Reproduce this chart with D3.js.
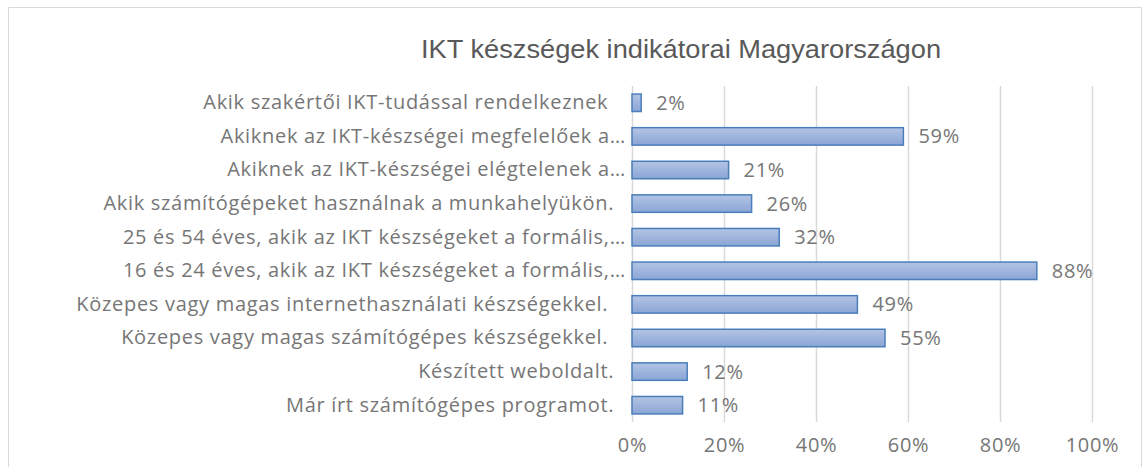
<!DOCTYPE html>
<html>
<head>
<meta charset="utf-8">
<script src="https://cdn.jsdelivr.net/npm/d3@7"></script>
<style>
  body { margin: 0; background: #fff; }
  text { white-space: pre; }
</style>
</head>
<body>
<div id="chart"></div>
<script>
var width = 1142;
var height = 467;

var title = "IKT készségek indikátorai Magyarországon";

var categories = [
  "Akik szakértői IKT-tudással rendelkeznek   ",
  "Akiknek az IKT-készségei megfelelőek a…",
  "Akiknek az IKT-készségei elégtelenek a…",
  "Akik számítógépeket használnak a munkahelyükön.  ",
  "25 és 54 éves, akik az IKT készségeket a formális,…",
  "16 és 24 éves, akik az IKT készségeket a formális,…",
  "Közepes vagy magas internethasználati készségekkel.   ",
  "Közepes vagy magas számítógépes készségekkel.   ",
  "Készített weboldalt.  ",
  "Már írt számítógépes programot.  "
];
var values = [0.02, 0.59, 0.21, 0.26, 0.32, 0.88, 0.49, 0.55, 0.12, 0.11];
var ticks = [0, 0.2, 0.4, 0.6, 0.8, 1];

var margin = {top: 86, right: 50, bottom: 45, left: 632};
var font = "'Open Sans', Lato, sans-serif";
var grey = "#767676";

var svg = d3.select("#chart")
            .append("svg")
            .attr("width", width)
            .attr("height", height);

// chart frame
svg.append("path")
   .attr("d", "M8.5," + height + "V7.5H1141.5V" + height)
   .attr("fill", "none")
   .attr("stroke", "#d9d9d9")
   .attr("stroke-width", 1);

var grad = svg.append("defs").append("linearGradient")
              .attr("id", "barfill")
              .attr("x1", 0).attr("y1", 0).attr("x2", 0).attr("y2", 1);
grad.append("stop").attr("offset", "0%").attr("stop-color", "#b3c5e5");
grad.append("stop").attr("offset", "100%").attr("stop-color", "#8aa5d5");

var xScale = d3.scaleLinear()
               .domain([0, 1])
               .range([margin.left, 1092]);

var yScale = d3.scaleBand()
               .domain(categories)
               .range([margin.top, 422])
               .paddingInner(0.48)
               .paddingOuter(0.24);

// gridlines
svg.selectAll(".grid")
   .data(ticks)
   .enter()
   .append("line")
   .attr("x1", function(d){ return Math.round(xScale(d)) + 0.5; })
   .attr("x2", function(d){ return Math.round(xScale(d)) + 0.5; })
   .attr("y1", margin.top)
   .attr("y2", 422)
   .attr("stroke", "#d9d9d9")
   .attr("stroke-width", 1.5);

// the source screenshot is a bit stretched sideways, so widen the text
function labelStyle(sel) {
  sel.style("font-family", font)
     .style("font-size", "20px")
     .style("letter-spacing", "0.7px")
     .style("fill", grey);
}

// x axis labels
var xAxis = d3.axisBottom(xScale)
              .tickValues(ticks)
              .tickFormat(d3.format(".0%"))
              .tickSize(0)
              .tickPadding(0);

var gx = svg.append("g")
            .attr("transform", "translate(0,437)")
            .call(xAxis);
gx.select(".domain").remove();
gx.selectAll("text")
  .attr("dy", "0.75em")
  .call(labelStyle);

// category labels
var yAxis = d3.axisLeft(yScale)
              .tickSize(0)
              .tickPadding(6);

var gy = svg.append("g")
            .attr("transform", "translate(" + margin.left + ",0)")
            .call(yAxis);
gy.select(".domain").remove();
gy.selectAll("text").call(labelStyle);

// bars
svg.selectAll(".bar")
   .data(values)
   .enter()
   .append("rect")
   .attr("x", xScale(0))
   .attr("y", function(d, i){ return yScale(categories[i]); })
   .attr("width", function(d){ return xScale(d) - xScale(0); })
   .attr("height", yScale.bandwidth())
   .attr("fill", "url(#barfill)")
   .attr("stroke", "#4a7ebb")
   .attr("stroke-width", 1.5);

// value labels
svg.selectAll(".val")
   .data(values)
   .enter()
   .append("text")
   .attr("x", function(d){ return xScale(d) + 15; })
   .attr("y", function(d, i){ return yScale(categories[i]) + yScale.bandwidth() / 2; })
   .attr("dy", "0.35em")
   .text(function(d){ return Math.round(d * 100) + "%"; })
   .call(labelStyle);

// title
svg.append("text")
   .attr("transform", "translate(681,58) scale(1.09,1)")
   .attr("text-anchor", "middle")
   .text(title)
   .style("font-family", "'Liberation Sans', Arial, sans-serif")
   .style("font-size", "25px")
   .style("fill", "#595959");
</script>
</body>
</html>
